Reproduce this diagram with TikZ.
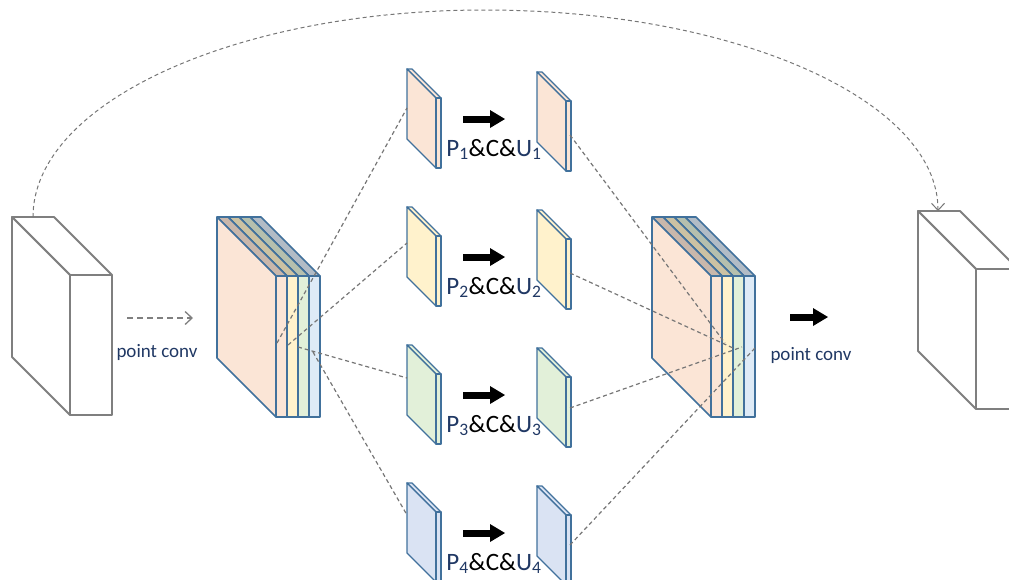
\documentclass[tikz,border=0pt]{standalone}
\usepackage{fontspec}
\setmainfont{Carlito}
\usetikzlibrary{arrows.meta}
\definecolor{cA}{HTML}{FBE5D6}
\definecolor{cB}{HTML}{FFF2CC}
\definecolor{cC}{HTML}{E2F0D9}
\definecolor{cD}{HTML}{DEEBF7}
\definecolor{cDp}{HTML}{DAE3F3}
\definecolor{edgeblue}{HTML}{41719C}
\definecolor{boxgray}{HTML}{7F7F7F}
\definecolor{dashgray}{HTML}{767676}
\definecolor{navy}{HTML}{203864}
% #1 style, #2 x, #3 y (back top-left), #4 front width, #5 depth, #6 height, #7 fill, #8 top fill
\newcommand{\mkslab}[8]{%
  \filldraw[#1,fill=#8] (#2,#3) -- ++(#4,0) -- ++(#5,#5) -- ++(-#4,0) -- cycle;
  \filldraw[#1,fill=#7] (#2,#3) -- ++(#5,#5) -- ++(0,#6) -- ++(-#5,-#5) -- cycle;
  \filldraw[#1,fill=#7] (#2+#5,#3+#5) rectangle ++(#4,#6);
}
\begin{document}
\begin{tikzpicture}[x=1pt,y=-1pt,
  blueedge/.style={draw=edgeblue,line width=1.6pt,line join=round},
  paneledge/.style={draw=edgeblue,line width=1.4pt,line join=round},
  grayedge/.style={draw=boxgray,line width=1.8pt,line join=round},
  dashconn/.style={draw=dashgray,line width=1.2pt,dash pattern=on 4pt off 3pt},
  middash/.style={draw=boxgray,line width=1.3pt,dash pattern=on 6pt off 4pt},
  barb/.style={-{Straight Barb[length=7pt,width=13pt]}},
  boldarrow/.style={draw=black,line width=7pt,-{Triangle[length=15pt,width=18pt,line width=0pt]}},
  labeltext/.style={font=\fontsize{25}{29}\selectfont,inner sep=0pt,anchor=base},
  convtext/.style={font=\fontsize{19}{23}\selectfont,text=navy,inner sep=0pt}]
\useasboundingbox (0,0) rectangle (1009,579);
\clip (0,0) rectangle (1009,579);

% gray input / output boxes
\mkslab{grayedge}{12}{217}{42}{58}{140}{white}{white}
\mkslab{grayedge}{918}{211}{42}{58}{140}{white}{white}

% left stack
\mkslab{blueedge}{250}{217}{11}{59}{141}{cD}{cD!80!black}
\mkslab{blueedge}{239}{217}{11}{59}{141}{cC}{cC!80!black}
\mkslab{blueedge}{228}{217}{11}{59}{141}{cB}{cB!80!black}
\mkslab{blueedge}{217}{217}{11}{59}{141}{cA}{cA!80!black}
% right stack
\mkslab{blueedge}{685}{217}{11}{59}{141}{cD}{cD!80!black}
\mkslab{blueedge}{674}{217}{11}{59}{141}{cC}{cC!80!black}
\mkslab{blueedge}{663}{217}{11}{59}{141}{cB}{cB!80!black}
\mkslab{blueedge}{652}{217}{11}{59}{141}{cA}{cA!80!black}

% panels
\mkslab{paneledge}{407}{69}{5}{29}{70}{cA}{cA}
\mkslab{paneledge}{407}{207}{5}{29}{70}{cB}{cB}
\mkslab{paneledge}{407}{345}{5}{29}{70}{cC}{cC}
\mkslab{paneledge}{407}{483}{5}{29}{70}{cDp}{cDp}
\mkslab{paneledge}{537}{72}{5}{29}{70}{cA}{cA}
\mkslab{paneledge}{537}{210}{5}{29}{70}{cB}{cB}
\mkslab{paneledge}{537}{348}{5}{29}{70}{cC}{cC}
\mkslab{paneledge}{537}{486}{5}{29}{70}{cDp}{cDp}

% connector end points
\coordinate (L1) at (277,343);
\coordinate (L2) at (288,345);
\coordinate (L3) at (298,347);
\coordinate (L4) at (313,352);
\coordinate (PL1) at (407,108);
\coordinate (PL2) at (407,243);
\coordinate (PL3) at (407,378);
\coordinate (PL4) at (407,515);
\coordinate (PR1) at (570,135);
\coordinate (PR2) at (570,273);
\coordinate (PR3) at (570,408);
\coordinate (PR4) at (570,545);
\coordinate (R1) at (725,343);
\coordinate (R2) at (733,348);
\coordinate (R3) at (742,347);
\coordinate (R4) at (755,348);
\coordinate (arcS) at (33,217);
\coordinate (arcP) at (485,10);
\coordinate (arcE) at (938,211);
\coordinate (daS) at (127,318);
\coordinate (daE) at (193,318);

% dashed connectors
\draw[dashconn] (L1) -- (PL1);
\draw[dashconn] (L2) -- (PL2);
\draw[dashconn] (L3) -- (PL3);
\draw[dashconn] (L4) -- (PL4);
\draw[dashconn] (PR1) -- (R1);
\draw[dashconn] (PR2) -- (R2);
\draw[dashconn] (PR3) -- (R3);
\draw[dashconn] (PR4) -- (R4);
\draw[dashconn,line width=1pt,barb] (arcS) .. controls (33,103) and (235,10) .. (arcP)
   .. controls (735,10) and (938,100) .. (arcE);
\draw[middash,barb] (daS) -- (daE);

% bold arrows
\foreach \k/\yy in {1/119,2/257,3/395,4/533}{
  \coordinate (bs\k) at (463,\yy);
  \coordinate (be\k) at (505,\yy);
  \draw[boldarrow] (bs\k) -- (be\k);
}
\coordinate (rbs) at (790,317);
\coordinate (rbe) at (828,317);
\draw[boldarrow] (rbs) -- (rbe);

% labels
\node[labeltext] (t1) at (494,156) {{\color{navy}P\textsubscript{1}}\&C\&{\color{navy}U\textsubscript{1}}};
\node[labeltext] (t2) at (494,294) {{\color{navy}P\textsubscript{2}}\&C\&{\color{navy}U\textsubscript{2}}};
\node[labeltext] (t3) at (494,432) {{\color{navy}P\textsubscript{3}}\&C\&{\color{navy}U\textsubscript{3}}};
\node[labeltext] (t4) at (494,570) {{\color{navy}P\textsubscript{4}}\&C\&{\color{navy}U\textsubscript{4}}};
\node[convtext] (pc1) at (157,352) {point conv};
\node[convtext] (pc2) at (811,355) {point conv};
\end{tikzpicture}
\end{document}
